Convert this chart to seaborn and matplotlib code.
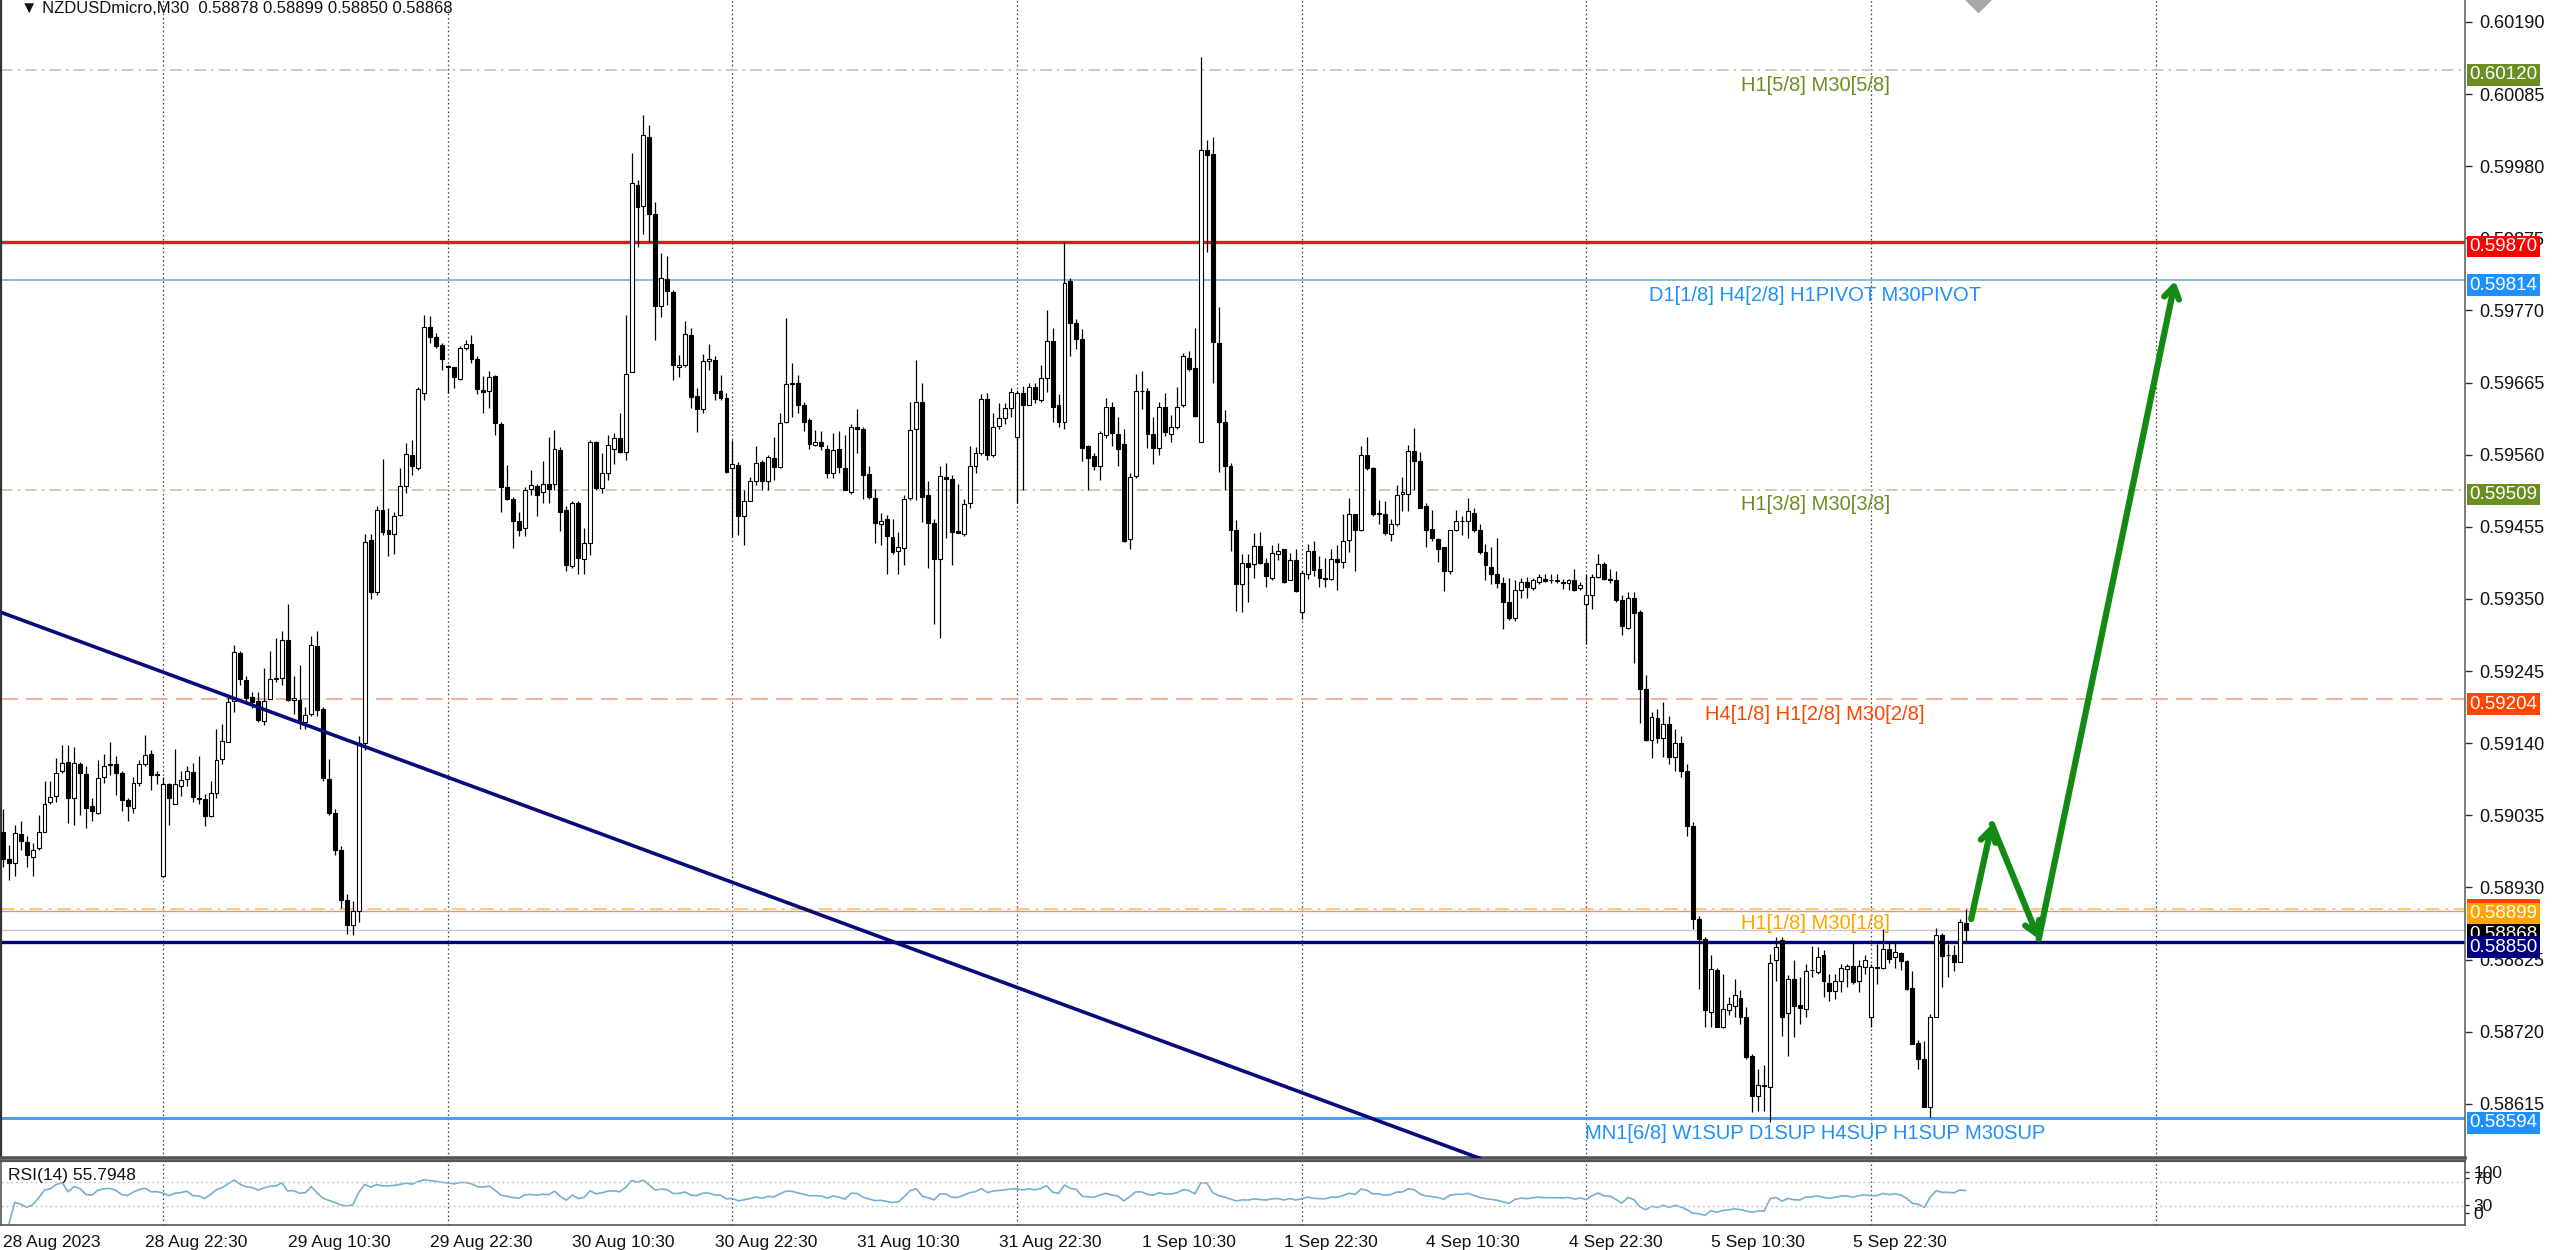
import numpy as np
import pandas as pd
import matplotlib
matplotlib.use("Agg")
import matplotlib.pyplot as plt
import matplotlib.transforms as mtransforms
import seaborn as sns

# ---- data (prices in points, 1 point = 0.00001) ----
title_text = "\u25BC NZDUSDmicro,M30  0.58878 0.58899 0.58850 0.58868"
rsi_text = "RSI(14) 55.7948"

open_pts = [
    59010, 58971, 58966, 59008, 58996, 58974, 58987, 59011, 59055, 59063,
    59099, 59113, 59060, 59110, 59095, 59048, 59039, 59090, 59108, 59110,
    59096, 59057, 59046, 59082, 59110, 59124, 59095, 58947, 59081, 59052,
    59078, 59088, 59098, 59060, 59059, 59034, 59067, 59117, 59142, 59202,
    59271, 59232, 59207, 59202, 59172, 59205, 59233, 59235, 59290, 59203,
    59203, 59171, 59182, 59282, 59189, 59088, 59038, 58985, 58912, 58875,
    58895, 59140, 59436, 59360, 59479, 59450, 59445, 59472, 59514, 59560,
    59540, 59650, 59746, 59732, 59720, 59688, 59687, 59670, 59715, 59721,
    59699, 59654, 59653, 59674, 59605, 59513, 59495, 59464, 59453, 59510,
    59514, 59505, 59518, 59518, 59567, 59479, 59398, 59489, 59408, 59432,
    59578, 59511, 59534, 59569, 59584, 59564, 59681, 59953, 59922, 60023,
    59911, 59777, 59816, 59797, 59687, 59691, 59734, 59645, 59627, 59696,
    59698, 59652, 59643, 59540, 59545, 59470, 59492, 59522, 59550, 59521,
    59555, 59542, 59607, 59664, 59664, 59632, 59610, 59574, 59579, 59569,
    59533, 59568, 59540, 59505, 59601, 59597, 59532, 59497, 59459, 59466,
    59440, 59420, 59424, 59497, 59598, 59637, 59501, 59461, 59408, 59528,
    59524, 59449, 59445, 59490, 59543, 59562, 59641, 59560, 59602, 59613,
    59628, 59586, 59650, 59633, 59658, 59640, 59671, 59725, 59633, 59608,
    59813, 59752, 59729, 59572, 59558, 59543, 59589, 59629, 59590, 59576,
    59437, 59529, 59652, 59652, 59590, 59570, 59630, 59590, 59601, 59632,
    59701, 59686, 59579, 60003, 59998, 59723, 59608, 59544, 59451, 59372,
    59402, 59401, 59427, 59402, 59381, 59415, 59422, 59378, 59407, 59331,
    59386, 59420, 59394, 59380, 59379, 59408, 59404, 59436, 59473, 59450,
    59560, 59540, 59474, 59474, 59444, 59459, 59503, 59503, 59566, 59551,
    59485, 59452, 59437, 59425, 59391, 59450, 59463, 59463, 59475, 59450,
    59418, 59397, 59386, 59373, 59345, 59322, 59363, 59375, 59366, 59375,
    59379, 59377, 59377, 59374, 59373, 59377, 59366, 59342, 59356, 59382,
    59401, 59379, 59377, 59349, 59308, 59351, 59331, 59219, 59145, 59177,
    59148, 59168, 59120, 59140, 59100, 59020, 58884, 58855, 58748, 58810,
    58727, 58752, 58758, 58769, 58742, 58684, 58626, 58641, 58640, 58825,
    58853, 58747, 58797, 58759, 58753, 58809, 58807, 58832, 58791, 58779,
    58794, 58811, 58816, 58794, 58814, 58741, 58813, 58813, 58841, 58828,
    58834, 58823, 58784, 58703, 58680, 58610, 58742, 58861, 58831, 58832,
    58822, 58878,
]
high_pts = [
    59044, 58991, 59021, 59027, 59005, 58994, 59035, 59085, 59085, 59118,
    59138, 59138, 59135, 59113, 59107, 59060, 59115, 59124, 59141, 59121,
    59099, 59060, 59091, 59116, 59152, 59130, 59100, 59091, 59082, 59132,
    59099, 59107, 59111, 59121, 59066, 59085, 59160, 59168, 59210, 59283,
    59274, 59238, 59215, 59215, 59249, 59274, 59293, 59304, 59343, 59238,
    59254, 59193, 59296, 59304, 59193, 59117, 59044, 58990, 58920, 58910,
    59150, 59445, 59445, 59485, 59553, 59482, 59476, 59540, 59577, 59581,
    59658, 59763, 59762, 59737, 59722, 59691, 59688, 59718, 59727, 59734,
    59703, 59674, 59682, 59676, 59608, 59545, 59499, 59477, 59513, 59538,
    59518, 59551, 59586, 59596, 59571, 59485, 59492, 59492, 59453, 59582,
    59580, 59563, 59589, 59591, 59620, 59763, 59999, 59960, 60055, 60040,
    59928, 59853, 59849, 59800, 59705, 59755, 59745, 59657, 59706, 59721,
    59703, 59676, 59650, 59581, 59550, 59509, 59527, 59572, 59552, 59560,
    59586, 59621, 59759, 59693, 59676, 59637, 59613, 59596, 59594, 59574,
    59591, 59594, 59589, 59605, 59626, 59601, 59543, 59510, 59475, 59472,
    59467, 59448, 59501, 59636, 59698, 59665, 59521, 59466, 59544, 59548,
    59530, 59517, 59496, 59572, 59571, 59649, 59650, 59620, 59635, 59635,
    59657, 59654, 59660, 59665, 59665, 59690, 59771, 59745, 59648, 59870,
    59817, 59758, 59743, 59574, 59562, 59594, 59643, 59637, 59615, 59597,
    59534, 59678, 59682, 59657, 59615, 59636, 59650, 59618, 59658, 59708,
    59711, 59745, 60139, 60018, 60023, 59775, 59625, 59548, 59465, 59416,
    59415, 59446, 59448, 59409, 59428, 59431, 59423, 59417, 59422, 59390,
    59430, 59434, 59412, 59409, 59422, 59428, 59473, 59497, 59473, 59573,
    59586, 59542, 59494, 59492, 59466, 59516, 59528, 59574, 59599, 59564,
    59489, 59480, 59439, 59425, 59450, 59480, 59470, 59497, 59483, 59459,
    59430, 59425, 59439, 59382, 59380, 59377, 59380, 59382, 59380, 59387,
    59386, 59386, 59387, 59379, 59379, 59393, 59375, 59386, 59386, 59416,
    59404, 59394, 59391, 59356, 59360, 59360, 59334, 59239, 59185, 59190,
    59200, 59180, 59160, 59150, 59110, 59025, 58888, 58858, 58831, 58813,
    58804, 58770, 58797, 58780, 58756, 58688, 58666, 58671, 58833, 58858,
    58858, 58802, 58824, 58799, 58819, 58845, 58843, 58839, 58804, 58804,
    58818, 58819, 58850, 58824, 58832, 58819, 58848, 58870, 58850, 58849,
    58836, 58824, 58808, 58708, 58706, 58745, 58871, 58863, 58848, 58846,
    58884, 58899,
]
low_pts = [
    58960, 58941, 58947, 58985, 58960, 58947, 58985, 59010, 59052, 59055,
    59096, 59024, 59021, 59035, 59016, 59027, 59037, 59082, 59093, 59065,
    59041, 59027, 59038, 59077, 59107, 59072, 59081, 58945, 59021, 59052,
    59063, 59077, 59055, 59052, 59019, 59032, 59060, 59110, 59141, 59185,
    59224, 59199, 59191, 59171, 59166, 59204, 59229, 59224, 59202, 59182,
    59160, 59160, 59179, 59179, 59085, 59035, 58977, 58900, 58862, 58860,
    58880, 59130, 59350, 59355, 59443, 59412, 59416, 59471, 59504, 59530,
    59538, 59640, 59722, 59715, 59684, 59650, 59657, 59669, 59712, 59693,
    59649, 59620, 59628, 59589, 59477, 59494, 59424, 59441, 59441, 59501,
    59470, 59489, 59489, 59509, 59449, 59390, 59395, 59387, 59387, 59414,
    59509, 59504, 59523, 59547, 59562, 59552, 59680, 59863, 59882, 59870,
    59727, 59761, 59778, 59669, 59673, 59688, 59628, 59593, 59620, 59683,
    59640, 59640, 59534, 59440, 59443, 59429, 59492, 59516, 59509, 59509,
    59523, 59540, 59606, 59615, 59620, 59594, 59569, 59572, 59567, 59526,
    59526, 59533, 59509, 59503, 59562, 59496, 59496, 59431, 59428, 59387,
    59416, 59387, 59399, 59494, 59494, 59462, 59395, 59313, 59293, 59438,
    59399, 59446, 59441, 59482, 59533, 59560, 59552, 59557, 59598, 59604,
    59615, 59490, 59509, 59632, 59635, 59637, 59651, 59608, 59601, 59598,
    59704, 59714, 59551, 59509, 59537, 59523, 59585, 59573, 59543, 59433,
    59422, 59526, 59626, 59570, 59547, 59559, 59587, 59578, 59597, 59629,
    59682, 59615, 59579, 59855, 59665, 59535, 59509, 59420, 59333, 59331,
    59346, 59381, 59401, 59367, 59378, 59406, 59373, 59377, 59360, 59321,
    59379, 59384, 59367, 59367, 59377, 59363, 59395, 59418, 59391, 59449,
    59537, 59470, 59459, 59443, 59435, 59456, 59478, 59478, 59509, 59482,
    59425, 59434, 59404, 59361, 59387, 59449, 59443, 59439, 59448, 59416,
    59377, 59372, 59366, 59306, 59320, 59318, 59351, 59351, 59363, 59372,
    59375, 59373, 59373, 59365, 59363, 59361, 59363, 59285, 59336, 59380,
    59377, 59373, 59346, 59298, 59306, 59257, 59169, 59143, 59118, 59140,
    59120, 59110, 59100, 59090, 59005, 58870, 58782, 58727, 58727, 58727,
    58726, 58744, 58742, 58731, 58680, 58603, 58605, 58605, 58588, 58794,
    58714, 58685, 58712, 58731, 58741, 58799, 58804, 58770, 58765, 58768,
    58777, 58785, 58790, 58778, 58804, 58727, 58790, 58811, 58820, 58813,
    58809, 58781, 58702, 58666, 58610, 58595, 58741, 58785, 58800, 58808,
    58821, 58850,
]
close_pts = [
    58971, 58965, 59009, 58998, 58977, 58985, 59010, 59052, 59061, 59097,
    59111, 59060, 59111, 59096, 59046, 59041, 59089, 59107, 59110, 59096,
    59057, 59049, 59082, 59110, 59123, 59093, 59094, 59081, 59060, 59080,
    59086, 59099, 59061, 59059, 59034, 59067, 59116, 59143, 59200, 59272,
    59233, 59206, 59200, 59174, 59202, 59233, 59235, 59290, 59203, 59206,
    59174, 59181, 59283, 59188, 59089, 59038, 58985, 58912, 58875, 58895,
    59140, 59433, 59360, 59480, 59448, 59445, 59471, 59514, 59561, 59543,
    59655, 59746, 59731, 59718, 59699, 59688, 59673, 59715, 59721, 59700,
    59655, 59651, 59673, 59606, 59513, 59495, 59464, 59451, 59508, 59516,
    59501, 59518, 59510, 59568, 59477, 59399, 59490, 59409, 59431, 59579,
    59511, 59533, 59574, 59584, 59564, 59678, 59955, 59921, 60025, 59911,
    59776, 59817, 59799, 59690, 59691, 59735, 59644, 59626, 59696, 59699,
    59650, 59642, 59535, 59546, 59470, 59492, 59521, 59548, 59521, 59556,
    59542, 59606, 59663, 59663, 59632, 59608, 59576, 59579, 59573, 59534,
    59567, 59542, 59509, 59601, 59598, 59530, 59498, 59460, 59464, 59442,
    59419, 59426, 59495, 59596, 59637, 59498, 59460, 59408, 59529, 59524,
    59448, 59446, 59488, 59543, 59563, 59641, 59560, 59601, 59613, 59628,
    59651, 59650, 59633, 59658, 59641, 59671, 59725, 59629, 59608, 59810,
    59752, 59729, 59570, 59555, 59543, 59591, 59630, 59591, 59568, 59435,
    59528, 59652, 59652, 59590, 59570, 59630, 59593, 59601, 59629, 59704,
    59685, 59617, 60003, 59997, 59724, 59608, 59543, 59451, 59372, 59402,
    59396, 59427, 59402, 59384, 59417, 59420, 59374, 59407, 59361, 59388,
    59420, 59392, 59381, 59379, 59408, 59404, 59435, 59473, 59450, 59560,
    59540, 59473, 59474, 59446, 59459, 59502, 59505, 59566, 59551, 59483,
    59450, 59439, 59423, 59391, 59450, 59463, 59463, 59478, 59450, 59418,
    59400, 59386, 59373, 59345, 59322, 59363, 59375, 59368, 59377, 59382,
    59376, 59377, 59376, 59373, 59377, 59363, 59370, 59356, 59382, 59401,
    59379, 59377, 59349, 59310, 59351, 59329, 59219, 59145, 59178, 59147,
    59168, 59120, 59140, 59100, 59020, 58884, 58855, 58752, 58811, 58727,
    58753, 58760, 58773, 58742, 58683, 58626, 58642, 58641, 58820, 58843,
    58742, 58797, 58758, 58754, 58808, 58809, 58829, 58794, 58779, 58794,
    58813, 58815, 58792, 58815, 58824, 58814, 58814, 58841, 58826, 58836,
    58823, 58782, 58702, 58680, 58610, 58741, 58861, 58830, 58831, 58822,
    58879, 58868,
]

date_labels = ["28 Aug 2023", "28 Aug 22:30", "29 Aug 10:30", "29 Aug 22:30",
               "30 Aug 10:30", "30 Aug 22:30", "31 Aug 10:30", "31 Aug 22:30",
               "1 Sep 10:30", "1 Sep 22:30", "4 Sep 10:30", "4 Sep 22:30",
               "5 Sep 10:30", "5 Sep 22:30"]
date_label_bars = [0, 24, 48, 72, 96, 120, 144, 168, 192, 216, 240, 264, 288, 312]
day_start_bars = [27, 75, 123, 171, 219, 267, 315, 363]

price_ticks = [0.60190, 0.60085, 0.59980, 0.59875, 0.59770, 0.59665, 0.59560,
               0.59455, 0.59350, 0.59245, 0.59140, 0.59035, 0.58930, 0.58825,
               0.58720, 0.58615]
rsi_levels = [70, 30]
rsi_scale_labels = ["0", "30", "70", "100"]

# horizontal levels
level_prices = [0.60120, 0.59870, 0.59814, 0.59509, 0.59204, 0.58899, 0.58868, 0.58850, 0.58594]
level_names = ["H1[5/8] M30[5/8]", "", "D1[1/8] H4[2/8] H1PIVOT M30PIVOT", "H1[3/8] M30[3/8]",
               "H4[1/8] H1[2/8] M30[2/8]", "H1[1/8] M30[1/8]", "", "",
               "MN1[6/8] W1SUP D1SUP H4SUP H1SUP M30SUP"]
second_orange_level = 0.58896

trend_bars = [-0.5, 249.2]
trend_prices = [0.59331, 0.58535]
path_bars = [331.9, 335.4, 343.3, 366.3]
path_prices = [0.58884, 0.59022, 0.58855, 0.59813]
marker_bar = 333.0
marker_price = 0.60226

# ---- styles ----
level_styles = [
    dict(color="#C5C5A5", ls=(0, (7, 3, 1.5, 3)), lw=1.2, text="#6B8E23", tag="#6B8E23"),
    dict(color="#DD1C1C", ls="-", lw=2.4, text=None, tag="#FF0000"),
    dict(color="#76AFCF", ls="-", lw=1.2, text="#1E90FF", tag="#1E90FF"),
    dict(color="#C5C5A5", ls=(0, (7, 3, 1.5, 3)), lw=1.2, text="#6B8E23", tag="#6B8E23"),
    dict(color="#F2A184", ls=(0, (10, 5)), lw=1.2, text="#FF4500", tag="#FF4500"),
    dict(color="#F7CB7A", ls=(0, (7, 3, 1.5, 3)), lw=1.4, text="#FFA500", tag="#FFA500"),
    dict(color="#C8C8C8", ls="-", lw=1.0, text=None, tag="#000000"),
    dict(color="#000080", ls="-", lw=2.4, text=None, tag="#000080"),
    dict(color="#3D9BEF", ls="-", lw=2.0, text="#1E90FF", tag="#1E90FF"),
]

sns.set_theme(style="white")
fonts = ["Liberation Sans", "DejaVu Sans"]
plt.rcParams["font.family"] = fonts

o = np.array(open_pts) / 1e5
h = np.array(high_pts) / 1e5
l = np.array(low_pts) / 1e5
c = np.array(close_pts) / 1e5
idx = np.arange(len(c))

# RSI(14), Wilder smoothing on the closes
delta = pd.Series(c).diff()
gain = delta.clip(lower=0).ewm(alpha=1 / 14, adjust=False).mean()
loss = (-delta.clip(upper=0)).ewm(alpha=1 / 14, adjust=False).mean()
rsi = 100 - 100 / (1 + gain / loss)

W, H = 2560, 1250
fig = plt.figure(figsize=(W / 100, H / 100), dpi=100)
fig.patch.set_facecolor("white")
ax = fig.add_axes([1 / W, 1 - 1158 / H, 2464 / W, 1158 / H])
rx = fig.add_axes([1 / W, 1 - 1225 / H, 2464 / W, 64 / H])

xmin, xmax = -0.34, 415.18
for a in (ax, rx):
    a.set_facecolor("white")
    a.set_xlim(xmin, xmax)
    for b in day_start_bars:
        a.axvline(b, color="#3C3C3C", lw=0.9, ls=(0, (1.2, 2.2)), zorder=1)

ax.set_ylim(0.58536, 0.60222)

# level lines
for p, st in zip(level_prices, level_styles):
    ax.axhline(p, color=st["color"], ls=st["ls"], lw=st["lw"], zorder=2)
ax.axhline(second_orange_level, color="#F09070", lw=1.0, zorder=2)

# trend line
ax.plot(trend_bars, trend_prices, color="#0A0A78", lw=2.6, zorder=5, solid_capstyle="butt")

# candles
ax.vlines(idx, l, h, color="black", lw=0.9, zorder=3)
body_lo = np.minimum(o, c)
body_h = np.maximum(np.abs(c - o), 0.000008)
face = np.where(c >= o, "white", "black")
ax.bar(idx, body_h, bottom=body_lo, width=0.66, color=face, edgecolor="black",
       linewidth=0.8, zorder=4)

# level labels
for p, name, st in zip(level_prices, level_names, level_styles):
    if name:
        ax.annotate(name, xy=(305.6, p), xytext=(0, -4), textcoords="offset points",
                    ha="center", va="top", fontsize=14.5, color=st["text"], zorder=6)

# green projection path
green = "#138A13"
for i in range(len(path_bars) - 1):
    ax.annotate("", xy=(path_bars[i + 1], path_prices[i + 1]),
                xytext=(path_bars[i], path_prices[i]),
                arrowprops=dict(arrowstyle="->,head_length=0.7,head_width=0.45",
                                color=green, lw=4.5, shrinkA=0, shrinkB=0),
                zorder=7)

ax.plot([marker_bar], [marker_price], marker="D", ms=15, color="#A8A8A8", zorder=6)

# price axis
ax.yaxis.tick_right()
ax.set_yticks(price_ticks)
ax.set_yticklabels([f"{t:.5f}" for t in price_ticks])
ax.tick_params(axis="y", direction="out", length=5, width=1, colors="#333333",
               labelsize=13, pad=5, labelcolor="#111111")
ax.set_xticks([])
ax.spines["top"].set_visible(False)
ax.spines["left"].set_color("#333333")
ax.spines["left"].set_linewidth(1.6)
ax.spines["right"].set_color("#666666")
ax.spines["right"].set_linewidth(1.2)
ax.spines["bottom"].set_color("#555555")
ax.spines["bottom"].set_linewidth(2.6)

# price tags on the axis
blend = mtransforms.blended_transform_factory(ax.transAxes, ax.transData)
tag_shift = 0.00007
ax.text(1.0018, 0.58899 - tag_shift + 0.00005, "0.58899", transform=blend, ha="left",
        va="center", fontsize=13.5, color="#FF4500", clip_on=False, zorder=19,
        bbox=dict(boxstyle="square,pad=0.12", fc="#FF4500", ec="none"))
for p, st in zip(level_prices, level_styles):
    ax.text(1.0018, p - tag_shift, f"{p:.5f}", transform=blend, ha="left", va="center",
            fontsize=13.5, color="white", clip_on=False, zorder=20,
            bbox=dict(boxstyle="square,pad=0.12", fc=st["tag"], ec="none"))

ax.text(0.008, 0.9925, title_text, transform=ax.transAxes, ha="left", va="center",
        fontsize=12, color="#111111", family=fonts)

# RSI panel
sns.lineplot(x=idx, y=rsi.values, ax=rx, color="#78AFCF", lw=1.2)
for lev in rsi_levels:
    rx.axhline(lev, color="#C8C8C8", lw=1.0, ls=(0, (1.5, 2)))
rx.set_ylim(-1.7, 105)
rx.yaxis.tick_right()
# the terminal squeezes the scale labels of the short panel together
rx.set_yticks([18, 32, 76, 87])
rx.set_yticklabels(rsi_scale_labels)
rx.tick_params(axis="y", direction="out", length=3, width=1, colors="#333333",
               labelsize=12.5, pad=3, labelcolor="#111111")
rx.set_xticks(date_label_bars)
rx.set_xticklabels(date_labels, ha="left")
rx.tick_params(axis="x", direction="out", length=5, width=1, colors="#333333",
               labelsize=12.5, pad=2, labelcolor="#111111")
rx.set_xlabel("")
rx.set_ylabel("")
for s in rx.spines.values():
    s.set_color("#555555")
    s.set_linewidth(1.2)
rx.spines["top"].set_linewidth(1.6)
rx.text(0.003, 0.78, rsi_text, transform=rx.transAxes, ha="left", va="center",
        fontsize=12.5, color="#111111")

fig.savefig("out.png", dpi=100, facecolor="white")
